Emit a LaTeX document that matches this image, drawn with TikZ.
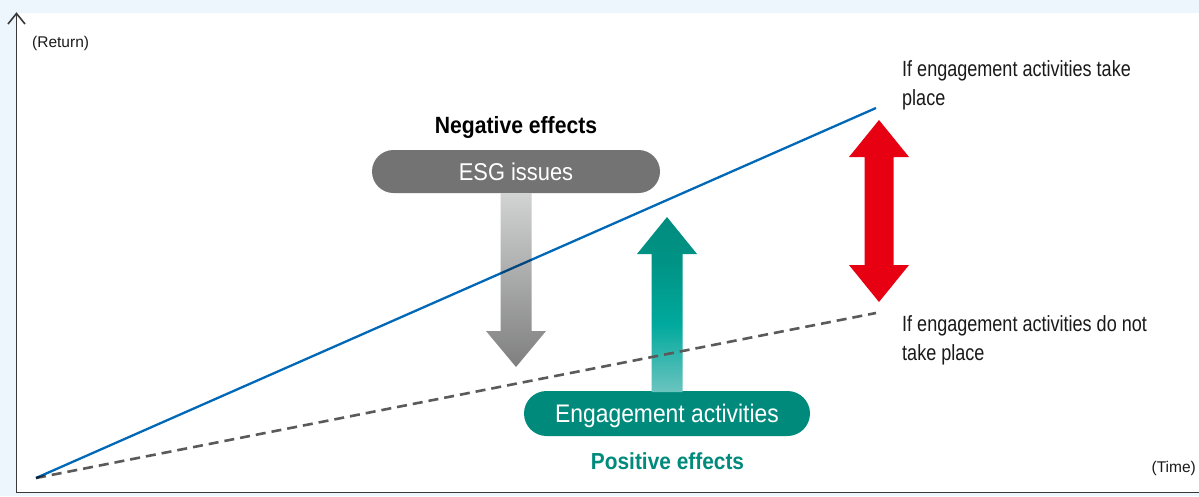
\documentclass[tikz,border=0pt]{standalone}
\usepackage{fontspec}
\setmainfont{Liberation Sans}
\newfontfamily\fA{Liberation Sans}
\newfontfamily\fC[FakeStretch=0.82]{Liberation Sans}
\newfontfamily\fD[FakeStretch=0.9]{Liberation Sans}
\definecolor{bgblue}{HTML}{EEF6FD}
\definecolor{axisgray}{HTML}{3A3A3A}
\definecolor{lineblue}{HTML}{0068B7}
\definecolor{dashgray}{HTML}{5A5A5A}
\definecolor{boxgray}{HTML}{737373}
\definecolor{teal1}{HTML}{008A7C}
\definecolor{tealtop}{HTML}{008C7E}
\definecolor{tealupper}{HTML}{009385}
\definecolor{tealmid}{HTML}{00A99D}
\definecolor{tealbot}{HTML}{6BC4BF}
\definecolor{graytop}{HTML}{D2D3D3}
\definecolor{graybot}{HTML}{7F7F7F}
\definecolor{redarrow}{HTML}{E60012}
\definecolor{txt}{HTML}{1A1A1A}
\pgfdeclareverticalshading{tealshade}{100bp}{color(0bp)=(tealbot); color(25bp)=(tealbot); color(44.5bp)=(tealmid); color(62.5bp)=(tealupper); color(75bp)=(tealtop); color(100bp)=(tealtop)}
\tikzset{
  pillbox/.style={minimum height=#1, inner sep=0pt, rounded corners=0.5*#1, text=white},
  axisline/.style={draw=axisgray, line width=1.6pt},
  blueline/.style={draw=lineblue, line width=2.3pt, blend mode=multiply},
  dashline/.style={draw=dashgray, line width=2.6pt, dash pattern=on 10pt off 6pt},
  sidetext/.style={anchor=north west, inner sep=0pt, align=left, text=txt, font=\fC\fontsize{22}{29}\selectfont},
  axlabel/.style={inner sep=0pt, text=txt, font=\fA\fontsize{15.5}{18}\selectfont}
}
\begin{document}
\begin{tikzpicture}[x=1pt,y=-1pt]
\useasboundingbox (0,0) rectangle (1199,496);
\fill[bgblue] (0,0) rectangle (1199,496);
\fill[white] (17,13) rectangle (1199,492);

% axes
\coordinate (ax0) at (16.5,492.5);
\coordinate (axtop) at (16.5,13.5);
\coordinate (axright) at (1199,492.5);
\draw[axisline] (ax0) -- (axtop);
\draw[axisline] (15.7,492.5) -- (axright);
\draw[axisline, line join=miter] (8,24) -- (axtop) -- (25,24);

\node[axlabel, anchor=base west] (ret) at (32,47) {(Return)};
\node[axlabel, anchor=base east] (time) at (1196,472) {(Time)};

% boxes
\node[pillbox=43pt, fill=boxgray, minimum width=288pt, text height=17.4pt, text depth=0pt,
      font=\fD\fontsize{24.3}{28}\selectfont] (esg) at (516,171.5) {ESG issues};
\node[pillbox=45pt, fill=teal1, minimum width=286pt, text height=18.3pt, text depth=0pt,
      font=\fD\fontsize{25.4}{30}\selectfont] (eng) at (667,413.5) {Engagement activities};

\node[anchor=base, inner sep=0pt, text=black, font=\fD\bfseries\fontsize{23.5}{28}\selectfont] (neg) at (516,133) {Negative effects};
\node[anchor=base, inner sep=0pt, text=teal1, font=\fD\bfseries\fontsize{23.2}{28}\selectfont] (pos) at (667.5,469) {Positive effects};

% gray down arrow from ESG box
\shade[top color=graytop, bottom color=graybot]
  (500.5,193) -- (531.5,193) -- (531.5,331) -- (546,331) -- (516,367) -- (486,331) -- (500.5,331) -- cycle;

% teal up arrow from engagement box
\shade[shading=tealshade]
  (667,217) -- (697,254) -- (682.5,254) -- (682.5,392) -- (651.5,392) -- (651.5,254) -- (637,254) -- cycle;

% red double arrow
\fill[redarrow]
  (879,120) -- (909,157) -- (893.5,157) -- (893.5,265) -- (909,265) -- (879,302)
  -- (849,265) -- (864.5,265) -- (864.5,157) -- (849,157) -- cycle;

% lines
\coordinate (O) at (36,478);
\coordinate (E1) at (876,108);
\coordinate (E2) at (876,313);
\draw[dashline] (O) -- (E2);
\draw[blueline] (O) -- (E1);

\node[sidetext] (take) at (902,60.5) {If engagement activities take\\place};
\node[sidetext] (nottake) at (902,315.5) {If engagement activities do not\\take place};
\end{tikzpicture}
\end{document}
